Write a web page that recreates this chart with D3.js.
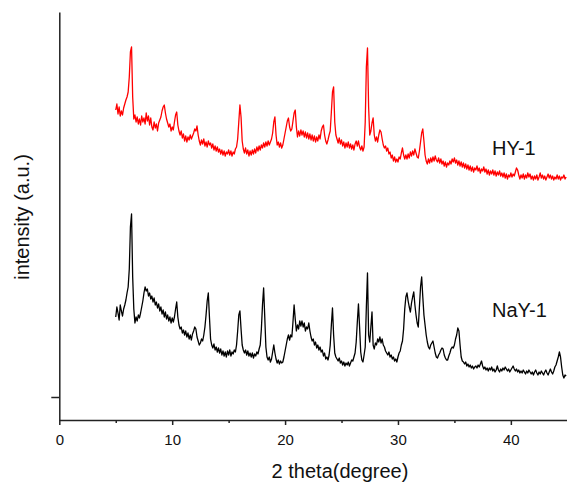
<!DOCTYPE html>
<html>
<head>
<meta charset="utf-8">
<script src="https://cdn.jsdelivr.net/npm/d3@7"></script>
<style>
  html, body { margin: 0; padding: 0; background: #fff; }
  svg { display: block; font-family: "Liberation Sans", Arial, sans-serif; }
</style>
</head>
<body>
<svg id="chart" width="567" height="483"></svg>
<script>
// ---- Data ----
// 2θ sampling grid: 5.0° .. 44.9° in 0.1° steps (400 points)
const twoThetaStart = 5.0;
const twoThetaStep = 0.1;

// NaY-1 (black) intensities, one row per degree (5.x, 6.x, ... 44.x)
const nay1 = [
  80,90,84,77,92,86,81,88,92,97,
  104,110,128,170,183,120,88,74,80,76,
  82,79,84,90,96,104,110,106,108,101,
  104,98,101,95,99,92,95,89,93,86,
  90,83,87,80,85,78,82,76,80,74,
  79,75,80,88,95,80,72,68,70,64,
  67,62,66,60,64,58,62,57,63,66,
  70,68,60,56,52,54,58,56,62,70,
  82,96,104,80,58,52,49,53,47,50,
  45,49,44,48,42,46,41,45,40,46,
  42,47,41,45,43,47,45,52,66,82,
  86,68,52,47,44,47,42,46,41,44,
  40,44,39,43,41,45,43,48,52,68,
  92,109,80,50,40,37,40,35,38,45,
  52,44,38,34,37,33,36,34,35,40,
  46,52,58,62,57,62,60,75,92,78,
  66,72,68,76,71,76,70,74,66,70,
  68,74,66,60,56,58,52,55,49,52,
  47,50,45,47,41,44,38,40,37,42,
  52,72,89,62,44,40,38,36,39,34,
  36,32,35,31,34,32,35,31,34,37,
  36,40,44,55,75,93,70,45,37,35,
  42,50,90,124,62,55,70,85,52,48,
  54,52,58,55,60,54,58,52,50,46,
  44,42,45,40,42,38,40,36,38,35,
  40,44,46,52,56,68,88,100,104,96,
  90,85,94,100,105,92,82,74,70,90,
  110,120,100,82,72,62,55,50,48,52,
  54,56,50,44,40,39,42,44,47,49,
  48,42,39,37,37,41,44,48,50,49,
  52,58,62,69,66,52,40,36,35,33,
  35,31,33,30,32,29,31,28,30,31,
  29,32,30,33,36,31,28,30,27,29,
  26,29,27,30,26,28,25,27,31,27,
  25,28,26,29,27,30,28,26,28,25,
  27,29,31,28,26,28,25,27,24,26,
  24,27,25,23,26,24,27,25,23,25,
  22,25,27,24,22,25,23,26,24,22,
  25,27,24,22,25,28,25,23,26,30,
  32,36,40,45,40,30,22,19,22,21
];

// HY-1 (red) intensities, same grid
const hy1 = [
  287,293,283,290,281,286,282,289,293,297,
  300,305,320,345,350,300,278,282,275,280,
  273,278,272,281,275,279,273,284,276,281,
  272,279,270,267,275,269,273,266,274,277,
  280,286,290,292,284,278,274,270,273,266,
  270,267,275,282,285,272,266,262,266,259,
  263,256,261,255,260,257,262,258,261,264,
  268,266,271,262,256,252,257,253,258,251,
  255,250,256,252,254,249,253,247,251,246,
  250,245,248,243,247,242,246,241,245,243,
  247,242,246,241,245,243,248,250,258,275,
  292,280,256,248,244,249,243,247,241,246,
  242,247,243,248,244,250,246,251,247,252,
  249,254,250,255,251,256,252,255,258,264,
  275,280,262,252,255,250,254,249,252,258,
  264,270,276,279,270,266,268,276,284,287,
  270,260,266,261,267,262,266,260,265,259,
  264,258,263,257,262,256,261,255,260,256,
  262,258,266,270,272,262,256,253,257,262,
  266,285,305,310,275,262,258,254,259,253,
  257,251,255,249,254,250,255,249,253,248,
  252,247,253,256,251,256,250,247,251,246,
  250,275,330,349,290,262,266,274,279,262,
  256,260,255,262,267,265,258,252,249,251,
  246,249,243,245,239,242,236,240,235,238,
  235,240,238,244,249,242,238,242,238,243,
  239,245,241,246,242,248,244,240,239,246,
  255,264,268,256,242,236,233,238,234,239,
  235,240,236,241,237,235,239,234,238,233,
  236,231,235,230,234,232,236,233,238,235,
  239,234,237,232,236,231,235,230,234,229,
  233,228,232,227,231,226,230,225,229,227,
  231,226,229,224,228,226,230,225,228,223,
  227,222,226,223,227,222,226,221,225,222,
  226,221,224,220,224,219,223,218,222,220,
  224,220,223,221,225,229,227,222,218,222,
  219,223,218,222,219,224,220,223,218,221,
  217,221,218,222,217,220,224,219,222,218,
  221,217,220,223,219,222,218,221,217,220,
  218,222,218,221,217,220,219,222,218,220
];

const xMajorTicks = [0, 10, 20, 30, 40];
const xMinorTicks = [5, 15, 25, 35];
const yTicks = [0];
const seriesNames = ["HY-1", "NaY-1"];
const seriesColors = ["#ff0000", "#000000"];

// ---- Chart ----
const svg = d3.select("#chart");
const x = d3.scaleLinear().domain([0, 45]).range([59.3, 567.3]);
const y = d3.scaleLinear().domain([-23, 385]).range([420, 12]);

const toPoints = vals => vals.map((v, i) => [twoThetaStart + i * twoThetaStep, v]);
const line = d3.line().x(d => x(d[0])).y(d => y(d[1]));

const series = [hy1, nay1];
series.forEach((vals, i) => {
  svg.append("path")
    .datum(toPoints(vals))
    .attr("fill", "none")
    .attr("stroke", seriesColors[i])
    .attr("stroke-width", 1.3)
    .attr("stroke-linejoin", "round")
    .attr("d", line);
});

// X axis (major + minor ticks)
svg.append("g").attr("transform", "translate(0,420)")
  .call(d3.axisBottom(x).tickValues(xMajorTicks).tickSize(5).tickSizeOuter(0).tickPadding(9));
svg.append("g").attr("transform", "translate(0,420)")
  .call(d3.axisBottom(x).tickValues(xMinorTicks).tickSize(3).tickFormat("").tickSizeOuter(0))
  .select(".domain").remove();

// Y axis
svg.append("g").attr("transform", "translate(59.3,0)")
  .call(d3.axisLeft(y).tickValues(yTicks).tickFormat("").tickSize(8).tickSizeOuter(0));

svg.selectAll(".domain, .tick line").attr("stroke", "#222").attr("stroke-width", 1.5);
svg.selectAll(".tick text").attr("font-size", 15).attr("fill", "#111")
  .attr("font-family", "'Liberation Sans', Arial, sans-serif");

// Axis titles
svg.append("text")
  .attr("x", 340).attr("y", 478)
  .attr("text-anchor", "middle")
  .attr("font-size", 20).attr("fill", "#111")
  .text("2 theta(degree)");

svg.append("text")
  .attr("transform", "translate(29,217) rotate(-90)")
  .attr("text-anchor", "middle")
  .attr("font-size", 20).attr("fill", "#111")
  .text("intensity (a.u.)");

// Series labels
const labelPos = [[492, 155], [492, 317]];
seriesNames.forEach((name, i) => {
  svg.append("text")
    .attr("x", labelPos[i][0]).attr("y", labelPos[i][1])
    .attr("font-size", 20).attr("fill", "#111")
    .text(name);
});
</script>
</body>
</html>
